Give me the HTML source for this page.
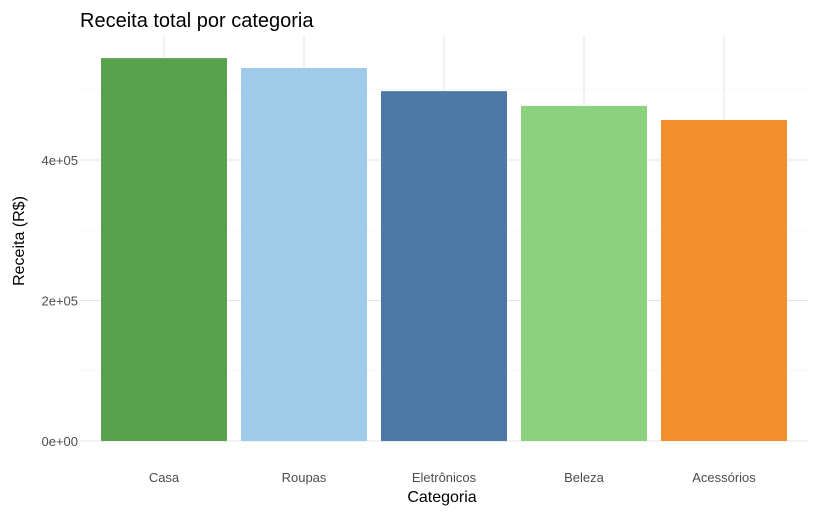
<!DOCTYPE html>
<html><head><meta charset="utf-8"><style>
body{margin:0;background:#fff;}
svg text{font-family:"Liberation Sans",Arial,sans-serif;}
</style></head><body>
<svg width="816" height="516" viewBox="0 0 816 516">
<text x="80" y="27" font-size="20" fill="#000">Receita total por categoria</text>
<g id="grid"></g>
<g id="bars"></g>
<g id="yticks"></g>
<g id="xticks"></g>
<text x="442" y="502" font-size="16" text-anchor="middle" fill="#000">Categoria</text>
<text transform="translate(24,241) rotate(-90)" font-size="16" text-anchor="middle" fill="#000">Receita (R$)</text>
</svg>
<script>
const categories=["Casa","Roupas","Eletrônicos","Beleza","Acessórios"];
const values=[545000,531000,498000,477000,457000];
const colors=["#59a14f","#a0cbe8","#4e79a7","#8cd17d","#f28e2b"];
const yTicks=[0,200000,400000];
const yTickLabels=["0e+00","2e+05","4e+05"];
const minorTicks=[100000,300000,500000];
const NS="http://www.w3.org/2000/svg";
const plotLeft=80,plotRight=808,plotTop=36,plotBase=441;
const pxPer=140.5/200000;
const yS=v=>plotBase-v*pxPer;
const step=(plotRight-plotLeft)/(categories.length+0.2);
const xS=i=>plotLeft+step*(i+0.6);
const bw=step*0.9;
function mk(t,a,p){const e=document.createElementNS(NS,t);for(const k in a)e.setAttribute(k,a[k]);p.appendChild(e);return e;}
const g=document.getElementById('grid');
minorTicks.forEach(v=>{const l=mk('line',{x1:plotLeft,x2:plotRight,y1:yS(v),y2:yS(v),stroke:'#f0f0f0','stroke-width':0.6},g);

});
yTicks.forEach(v=>{const l=mk('line',{x1:plotLeft,x2:plotRight,y1:yS(v),y2:yS(v),stroke:'#e6e6e6','stroke-width':1},g);

});
categories.forEach((c,i)=>{const l=mk('line',{x1:xS(i),x2:xS(i),y1:plotTop,y2:plotBase,stroke:'#e6e6e6','stroke-width':1},g);

});
const b=document.getElementById('bars');
categories.forEach((c,i)=>{const r=mk('rect',{x:xS(i)-bw/2,y:yS(values[i]),width:bw,height:plotBase-yS(values[i]),fill:colors[i]},b);

});
const yt=document.getElementById('yticks');
yTicks.forEach((v,i)=>{const t=mk('text',{x:78,y:yS(v)+5,'font-size':13,'text-anchor':'end',fill:'#4d4d4d'},yt);t.textContent=yTickLabels[i];

});
const xt=document.getElementById('xticks');
categories.forEach((c,i)=>{const t=mk('text',{x:xS(i),y:482,'font-size':13,'text-anchor':'middle',fill:'#4d4d4d'},xt);t.textContent=c;

});
</script>
</body></html>
